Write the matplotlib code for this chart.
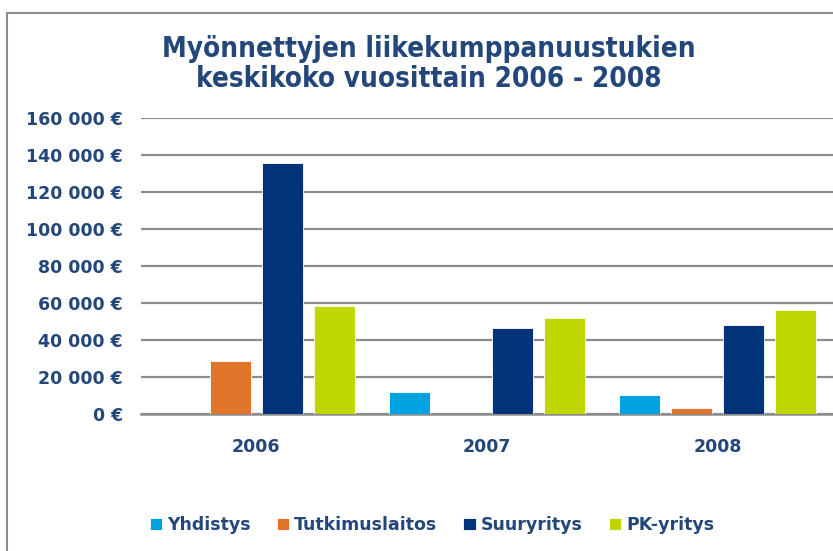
import numpy as np
import matplotlib
matplotlib.use("Agg")
import matplotlib.pyplot as plt
from matplotlib.patches import Rectangle

# data (euro)
years = ["2006", "2007", "2008"]
series = ["Yhdistys", "Tutkimuslaitos", "Suuryritys", "PK-yritys"]
yhdistys = [0, 12000, 10200]
tutkimuslaitos = [28400, 0, 3300]
suuryritys = [135500, 46300, 48300]
pk_yritys = [58400, 51800, 56000]
colors = ["#00A3E0", "#E07428", "#003378", "#BFD600"]
yticks = [0, 20000, 40000, 60000, 80000, 100000, 120000, 140000, 160000]

text_col = "#23477A"

fig = plt.figure(figsize=(8.33, 5.51), dpi=100)
fig.patch.set_facecolor("white")
# outer frame (top/left visible, right/bottom cut off)
fig.patches.append(Rectangle((7 / 833, -0.05), 1.1, 1 - 13 / 551 + 0.05,
                             transform=fig.transFigure, fill=False,
                             edgecolor="#8C8C8C", linewidth=1.5))

ax = fig.add_axes([141 / 833, 1 - 414 / 551, 1 - 141 / 833, (414 - 118) / 551])

x = np.arange(len(years))
step = 0.225
width = 0.178
for i, (name, vals) in enumerate(zip(series, [yhdistys, tutkimuslaitos, suuryritys, pk_yritys])):
    ax.bar(x + (i - 1.5) * step, vals, width, color=colors[i], label=name,
           edgecolor="white", linewidth=0.6, zorder=3)

ax.set_xlim(-0.5, 2.5)
ax.set_ylim(0, 160000)
ax.set_yticks(yticks)
ax.set_yticklabels([f"{v:,}".replace(",", " ") + " €" for v in yticks])
ax.set_xticks(x)
ax.set_xticklabels(years)
ax.grid(axis="y", color="#8C8C8C", linewidth=1.6, zorder=0)
for s in ["top", "right", "left"]:
    ax.spines[s].set_visible(False)
ax.spines["bottom"].set_color("#8C8C8C")
ax.spines["bottom"].set_linewidth(1.8)
ax.tick_params(axis="both", length=0, labelcolor=text_col, labelsize=12.5)
ax.tick_params(axis="y", pad=13)
ax.tick_params(axis="x", pad=17)
for lbl in ax.get_xticklabels() + ax.get_yticklabels():
    lbl.set_fontweight("bold")

fig.text(0.515, 1 - 64 / 551, "Myönnettyjen liikekumppanuustukien\nkeskikoko vuosittain 2006 - 2008",
         ha="center", va="center", fontsize=20, fontweight="bold", color=text_col,
         fontstretch="condensed", linespacing=1.12)

leg = fig.legend(loc="center", bbox_to_anchor=(432 / 833, 1 - 525 / 551), ncol=4,
                 frameon=False, fontsize=12.5, handlelength=0.7, handleheight=0.7,
                 handletextpad=0.3, columnspacing=1.5)
for t in leg.get_texts():
    t.set_color(text_col)
    t.set_fontweight("bold")

fig.savefig("out.png", dpi=100)
